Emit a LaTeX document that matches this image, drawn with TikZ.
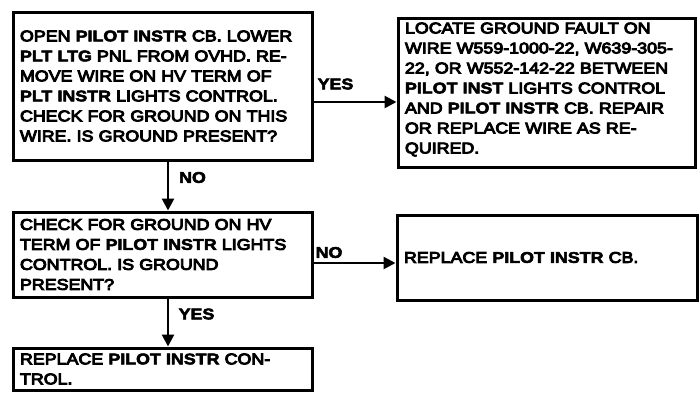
\documentclass[tikz,border=0pt]{standalone}
\usepackage{fontspec}
\usetikzlibrary{arrows.meta}
\newfontfamily\regf{Liberation Sans}[FakeStretch=1.15,FakeBold=6,BoldFeatures={FakeBold=3.5}]
\newcommand\emb[1]{{\bfseries #1}}
\newcommand\tline[1]{\mbox{#1}}
\tikzset{
  fbox/.style={draw, line width=3pt, align=left, inner xsep=7pt, inner ysep=0pt,
    font=\regf\fontsize{15.5}{20}\selectfont},
  lbl/.style={inner sep=0pt, font=\regf\bfseries\fontsize{15.5}{18}\selectfont},
  arr/.style={line width=2.6pt, -{Triangle[length=12pt,width=12pt]}}
}
\begin{document}
\begin{tikzpicture}[x=1pt,y=-1pt]
\useasboundingbox (0,0) rectangle (700,392);
\node[fbox, minimum width=299pt, minimum height=148pt, text width=285pt] (b1) at (162.5,86)
 {\tline{OPEN \emb{PILOT INSTR} CB. LOWER}\\
  \tline{\emb{PLT LTG} PNL FROM OVHD. RE-}\\
  \tline{MOVE WIRE ON HV TERM OF}\\
  \tline{\emb{PLT INSTR} LIGHTS CONTROL.}\\
  \tline{CHECK FOR GROUND ON THIS}\\
  \tline{WIRE. IS GROUND PRESENT?}};
\node[fbox, minimum width=297pt, minimum height=149pt, text width=283pt] (b2) at (546.5,92.5)
 {\tline{LOCATE GROUND FAULT ON}\\
  \tline{WIRE W559-1000-22, W639-305-}\\
  \tline{22, OR W552-142-22 BETWEEN}\\
  \tline{\emb{PILOT INST} LIGHTS CONTROL}\\
  \tline{AND \emb{PILOT INSTR} CB. REPAIR}\\
  \tline{OR REPLACE WIRE AS RE-}\\
  \tline{QUIRED.}\\[-11pt]\mbox{}};
\node[fbox, minimum width=299pt, minimum height=85pt, text width=285pt] (b3) at (162.5,254.5)
 {\tline{CHECK FOR GROUND ON HV}\\
  \tline{TERM OF \emb{PILOT INSTR} LIGHTS}\\
  \tline{CONTROL. IS GROUND}\\
  \tline{PRESENT?}};
\node[fbox, minimum width=300pt, minimum height=85pt, text width=286pt] (b4) at (547,257.5)
 {\tline{REPLACE \emb{PILOT INSTR} CB.}};
\node[fbox, minimum width=299pt, minimum height=42pt, text width=285pt] (b5) at (162.5,369)
 {\tline{REPLACE \emb{PILOT INSTR} CON-}\\
  \tline{TROL.}};
\coordinate (ya) at (0,102);
\coordinate (yb) at (0,263);
\coordinate (xa) at (168,0);
\draw[arr] (b1.east |- ya) -- (b2.west |- ya);
\draw[arr] (b1.south -| xa) -- (b3.north -| xa);
\draw[arr] (b3.east |- yb) -- (b4.west |- yb);
\draw[arr] (b3.south -| xa) -- (b5.north -| xa);
\node[lbl] (l1) at (335.5,84) {YES};
\node[lbl] (l2) at (192.5,177.5) {NO};
\node[lbl] (l3) at (329,252.5) {NO};
\node[lbl] (l4) at (196.5,314) {YES};
\end{tikzpicture}
\end{document}
